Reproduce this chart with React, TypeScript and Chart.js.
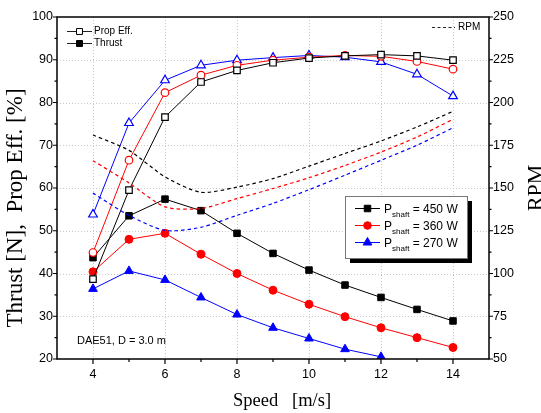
import React, { useEffect, useRef } from 'react';
import { Chart, registerables } from 'chart.js';

Chart.register(...registerables);

// ---- data ----
const speeds = [4, 5, 6, 7, 8, 9, 10, 11, 12, 13, 14];
const xTickValues = [4, 6, 8, 10, 12, 14];

const effP450 = [38.7, 59.5, 76.6, 84.8, 87.5, 89.3, 90.4, 90.9, 91.2, 90.9, 89.9];
const effP360 = [44.9, 66.5, 82.3, 86.4, 88.7, 89.9, 90.6, 91.0, 90.8, 89.6, 87.8];
const effP270 = [53.8, 75.2, 85.2, 88.7, 89.9, 90.5, 91.0, 90.6, 89.5, 86.6, 81.5];

const thrustP450 = [43.7, 53.5, 57.4, 54.7, 49.4, 44.7, 40.8, 37.3, 34.4, 31.6, 28.9];
const thrustP360 = [40.4, 48.0, 49.4, 44.5, 40.0, 36.1, 32.8, 29.9, 27.3, 25.0, 22.7];
const thrustP270 = [36.4, 40.6, 38.5, 34.4, 30.4, 27.3, 24.8, 22.3, 20.5];

const rpmP450 = [181, 172, 156.5, 147.5, 150.5, 155.5, 162.8, 170.2, 177.5, 185.7, 194.8];
const rpmP360 = [166, 153, 139, 138, 143.8, 149.7, 156, 163.2, 171, 179.8, 190.2];
const rpmP270 = [147, 134, 125.2, 127, 134, 141, 149, 157.5, 166.2, 175, 185.2];

const seriesLabels = ['450 W', '360 W', '270 W'];
const seriesColors = ['#000000', '#ff0000', '#0000ff'];
const seriesMarkers = ['rect', 'circle', 'triangle'];

const pts = (ys: number[]) => ys.map((y, i) => ({ x: speeds[i], y }));

const SANS = '"Liberation Sans", Arial, sans-serif';
const SERIF = '"Liberation Serif", "Times New Roman", serif';

function marker(ctx: CanvasRenderingContext2D, style: string, x: number, y: number, r: number, fill: string, stroke: string, lw = 1) {
  ctx.save();
  ctx.setLineDash([]);
  ctx.beginPath();
  if (style === 'rect') {
    const s = r * Math.SQRT1_2;
    ctx.rect(x - s, y - s, 2 * s, 2 * s);
  } else if (style === 'circle') {
    ctx.arc(x, y, r, 0, Math.PI * 2);
  } else {
    for (let k = 0; k < 3; k++) {
      const a = k * (2 * Math.PI / 3);
      const px = x + Math.sin(a) * r;
      const py = y - Math.cos(a) * r;
      if (k === 0) ctx.moveTo(px, py); else ctx.lineTo(px, py);
    }
    ctx.closePath();
  }
  ctx.fillStyle = fill;
  ctx.fill();
  ctx.lineWidth = lw;
  ctx.strokeStyle = stroke;
  ctx.stroke();
  ctx.restore();
}

const decor = {
  id: 'decor',
  beforeDatasetsDraw(chart: any) {
    const { ctx, chartArea: a, scales } = chart;
    ctx.save();
    ctx.strokeStyle = '#c8c8c8';
    ctx.lineWidth = 1;
    ctx.setLineDash([1, 2]);
    for (const v of xTickValues) {
      const p = Math.round(scales.x.getPixelForValue(v)) + 0.5;
      ctx.beginPath(); ctx.moveTo(p, a.top); ctx.lineTo(p, a.bottom); ctx.stroke();
    }
    for (let v = 30; v <= 90; v += 10) {
      const p = Math.round(scales.y.getPixelForValue(v)) + 0.5;
      ctx.beginPath(); ctx.moveTo(a.left, p); ctx.lineTo(a.right, p); ctx.stroke();
    }
    ctx.restore();
  },
  afterDraw(chart: any) {
    const { ctx, chartArea: a, scales } = chart;
    ctx.save();
    // frame
    ctx.setLineDash([]);
    ctx.strokeStyle = '#000';
    ctx.lineWidth = 1.5;
    ctx.strokeRect(a.left, a.top, a.right - a.left, a.bottom - a.top);
    // ticks
    ctx.lineWidth = 1.2;
    ctx.beginPath();
    for (let v = 4; v <= 14; v += 1) {
      const p = scales.x.getPixelForValue(v);
      const len = v % 2 === 0 ? 5 : 3;
      ctx.moveTo(p, a.bottom); ctx.lineTo(p, a.bottom + len);
    }
    for (let v = 20; v <= 100; v += 5) {
      const p = scales.y.getPixelForValue(v);
      const len = v % 10 === 0 ? 4 : 2.5;
      ctx.moveTo(a.left, p); ctx.lineTo(a.left - len, p);
    }
    for (let v = 50; v <= 250; v += 12.5) {
      const p = scales.y1.getPixelForValue(v);
      const len = v % 25 === 0 ? 4 : 2.5;
      ctx.moveTo(a.right, p); ctx.lineTo(a.right + len, p);
    }
    ctx.stroke();

    // axis titles
    ctx.fillStyle = '#000';
    ctx.textAlign = 'center';
    ctx.textBaseline = 'middle';
    ctx.font = `23px ${SERIF}`;
    ctx.save();
    ctx.translate(16, 208);
    ctx.rotate(-Math.PI / 2);
    ctx.fillText('Thrust [N],  Prop Eff. [%]', 0, 0);
    ctx.restore();
    ctx.font = `18.5px ${SERIF}`;
    ctx.fillText('Speed   [m/s]', 282, 401);
    ctx.save();
    ctx.font = `22px ${SERIF}`;
    ctx.translate(536, 188);
    ctx.rotate(-Math.PI / 2);
    ctx.fillText('RPM', 0, 0);
    ctx.restore();

    // top-left legend
    ctx.textAlign = 'left';
    ctx.font = `10px ${SANS}`;
    ctx.strokeStyle = '#222';
    ctx.lineWidth = 1;
    const tl = [
      { y: 31.5, text: 'Prop Eff.', fill: '#fff' },
      { y: 43.5, text: 'Thrust', fill: '#000' },
    ];
    for (const it of tl) {
      ctx.beginPath(); ctx.moveTo(67, it.y); ctx.lineTo(92, it.y); ctx.stroke();
      marker(ctx, 'rect', 79.5, it.y, 4.2, it.fill, '#000', 1);
      ctx.fillStyle = '#000';
      ctx.fillText(it.text, 94, it.y);
    }

    // RPM legend
    ctx.save();
    ctx.setLineDash([3, 2.5]);
    ctx.beginPath(); ctx.moveTo(432, 27.5); ctx.lineTo(455, 27.5); ctx.stroke();
    ctx.restore();
    ctx.fillText('RPM', 458, 27.5);

    // boxed legend
    const bx = 345, by = 196, bw = 122, bh = 62;
    ctx.fillStyle = '#000';
    ctx.fillRect(bx + 5, by + 5, bw, bh);
    ctx.fillStyle = '#fff';
    ctx.fillRect(bx, by, bw, bh);
    ctx.strokeStyle = '#777';
    ctx.lineWidth = 1;
    ctx.strokeRect(bx + 0.5, by + 0.5, bw, bh);
    const rows = [208.5, 225.5, 242.5];
    rows.forEach((ry, i) => {
      ctx.strokeStyle = seriesColors[i];
      ctx.lineWidth = 1;
      ctx.beginPath(); ctx.moveTo(355, ry); ctx.lineTo(380, ry); ctx.stroke();
      const r = seriesMarkers[i] === 'triangle' ? 5 : seriesMarkers[i] === 'circle' ? 3.8 : 4.6;
      marker(ctx, seriesMarkers[i], 367.5, ry, r, seriesColors[i], seriesColors[i], 1);
      ctx.fillStyle = '#000';
      ctx.textBaseline = 'alphabetic';
      ctx.font = `12px ${SANS}`;
      let x = 384;
      ctx.fillText('P', x, ry + 4.5);
      x += ctx.measureText('P').width;
      ctx.font = `8px ${SANS}`;
      ctx.fillText('shaft', x, ry + 8);
      x += ctx.measureText('shaft').width;
      ctx.font = `12px ${SANS}`;
      ctx.fillText(' = ' + seriesLabels[i], x, ry + 4.5);
    });

    // annotation
    ctx.textBaseline = 'middle';
    ctx.font = `11px ${SANS}`;
    ctx.fillStyle = '#000';
    ctx.fillText('DAE51, D = 3.0 m', 77, 341);
    ctx.restore();
  },
};

export default function App() {
  const ref = useRef<HTMLCanvasElement | null>(null);
  useEffect(() => {
    if (!ref.current) return;
    const effSets = [effP450, effP360, effP270].map((d, i) => ({
      label: 'Prop Eff. ' + seriesLabels[i],
      data: pts(d),
      yAxisID: 'y',
      borderColor: seriesColors[i],
      borderWidth: 1,
      pointStyle: seriesMarkers[i],
      pointRadius: seriesMarkers[i] === 'triangle' ? 5 : seriesMarkers[i] === 'circle' ? 3.8 : 4.6,
      pointBackgroundColor: '#ffffff',
      pointBorderColor: seriesColors[i],
      pointBorderWidth: 1.2,
      tension: 0,
    }));
    const thrustSets = [thrustP450, thrustP360, thrustP270].map((d, i) => ({
      label: 'Thrust ' + seriesLabels[i],
      data: pts(d),
      yAxisID: 'y',
      borderColor: seriesColors[i],
      borderWidth: 1,
      pointStyle: seriesMarkers[i],
      pointRadius: seriesMarkers[i] === 'triangle' ? 5 : seriesMarkers[i] === 'circle' ? 4 : 4.6,
      pointBackgroundColor: seriesColors[i],
      pointBorderColor: seriesColors[i],
      pointBorderWidth: 1,
      tension: 0,
    }));
    const rpmSets = [rpmP450, rpmP360, rpmP270].map((d, i) => ({
      label: 'RPM ' + seriesLabels[i],
      data: pts(d),
      yAxisID: 'y1',
      borderColor: seriesColors[i],
      borderWidth: 1.2,
      borderDash: [3.5, 3],
      pointRadius: 0,
      tension: 0.25,
    }));
    const tickFont = { family: SANS, size: 12.5 };
    const chart = new Chart(ref.current, {
      type: 'line',
      data: { datasets: [...rpmSets, ...effSets, ...thrustSets] as any },
      options: {
        responsive: false,
        animation: false,
        layout: { padding: { top: 17, left: 0, right: 0, bottom: 0 } },
        plugins: { legend: { display: false }, tooltip: { enabled: false } },
        scales: {
          x: {
            type: 'linear',
            min: 3,
            max: 15,
            afterBuildTicks: (s: any) => { s.ticks = xTickValues.map((v) => ({ value: v })); },
            afterFit: (s: any) => { s.height = 54; },
            grid: { display: false, drawTicks: false },
            border: { display: false },
            ticks: { font: tickFont, color: '#000', padding: 8, maxRotation: 0, autoSkip: false },
          },
          y: {
            type: 'linear',
            position: 'left',
            min: 20,
            max: 100,
            afterFit: (s: any) => { s.width = 57; },
            grid: { display: false, drawTicks: false },
            border: { display: false },
            ticks: { stepSize: 10, font: tickFont, color: '#000', padding: 4 },
          },
          y1: {
            type: 'linear',
            position: 'right',
            min: 50,
            max: 250,
            afterFit: (s: any) => { s.width = 52; },
            grid: { display: false, drawTicks: false },
            border: { display: false },
            ticks: { stepSize: 25, font: tickFont, color: '#000', padding: 4 },
          },
        },
      } as any,
      plugins: [decor],
    });
    return () => chart.destroy();
  }, []);
  return (
    <div style={{ position: 'absolute', left: 0, top: 0, width: 541, height: 413, background: '#fff' }}>
      <canvas ref={ref} width={541} height={413} style={{ display: 'block' }} />
    </div>
  );
}
